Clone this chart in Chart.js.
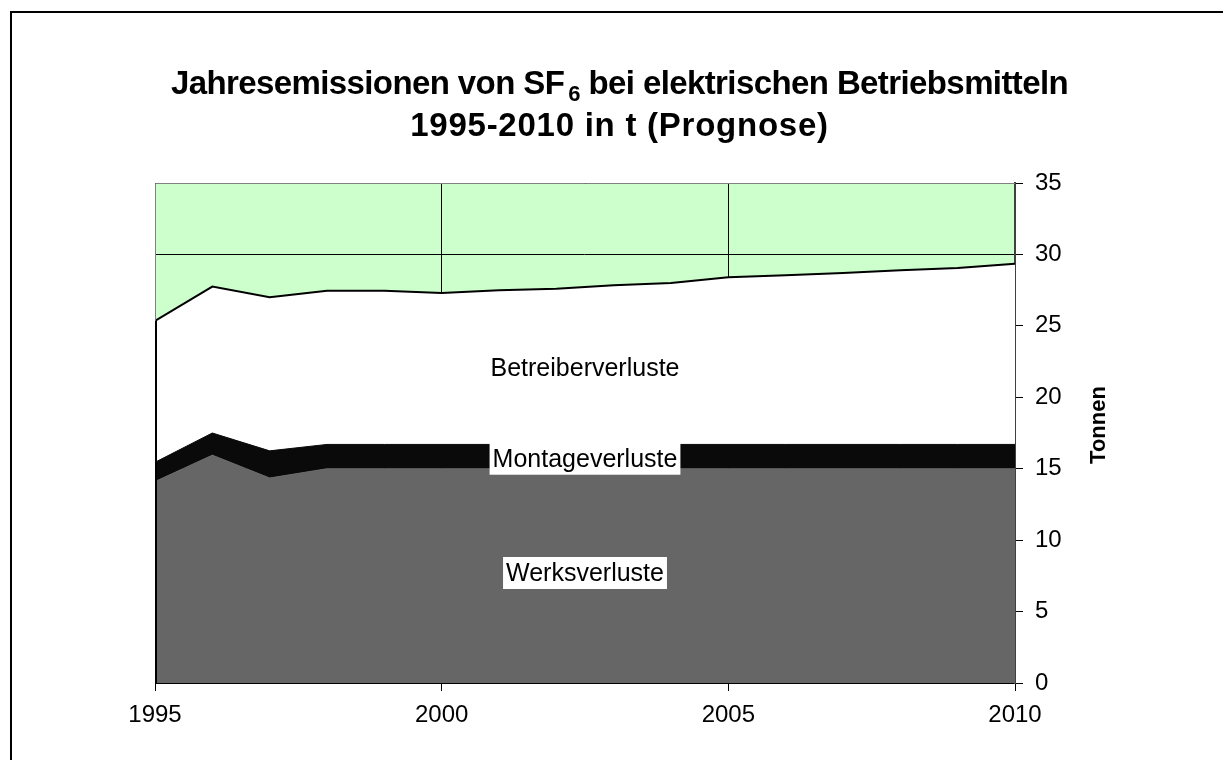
<!DOCTYPE html>
<html><head><meta charset="utf-8">
<script src="https://cdn.jsdelivr.net/npm/chart.js@4.4.0/dist/chart.umd.min.js"></script>
<style>
html,body{margin:0;padding:0;background:#fff;width:1223px;height:760px;overflow:hidden;}
#frame{position:absolute;left:10px;top:11px;width:1300px;height:800px;border-left:2px solid #000;border-top:2px solid #000;}
#title{position:absolute;left:0;top:62px;width:1239px;text-align:center;font-family:"Liberation Sans",Arial,sans-serif;font-weight:bold;font-size:33px;line-height:42px;color:#000;}
#title .l1{letter-spacing:-0.6px;}
#title .l2{letter-spacing:0.75px;}
#title sub{font-size:22px;vertical-align:-7px;line-height:0;margin-left:4px;}
canvas{position:absolute;left:0;top:0;}
</style></head><body>
<div id="frame"></div>
<canvas id="c" width="1223" height="760"></canvas>
<div id="title"><span class="l1">Jahresemissionen von SF<sub>6</sub> bei elektrischen Betriebsmitteln</span><br><span class="l2">1995-2010 in t (Prognose)</span></div>
<script>
const years = [1995,1996,1997,1998,1999,2000,2001,2002,2003,2004,2005,2006,2007,2008,2009,2010];
const werksverluste = [14.1,15.95,14.35,15.0,15.0,15.0,15.0,15.0,15.0,15.0,15.0,15.0,15.0,15.0,15.0,15.0];
const montageverluste = [1.35,1.55,1.9,1.7,1.7,1.7,1.7,1.7,1.7,1.7,1.7,1.7,1.7,1.7,1.7,1.7];
const betreiberverluste = [9.9,10.25,10.75,10.75,10.75,10.6,10.8,10.9,11.15,11.3,11.7,11.85,12.0,12.2,12.35,12.65];
const seriesNames = ['Werksverluste','Montageverluste','Betreiberverluste'];
const xTicks = [1995,2000,2005,2010];
const yTicks = [0,5,10,15,20,25,30,35];
const yAxisTitle = 'Tonnen';

const FONT = '"Liberation Sans", Arial, sans-serif';
const pts = arr => arr.map((v,i)=>({x:years[i], y:v}));

const bgPlugin = {
  id:'bg',
  beforeDraw(chart){
    const {ctx, chartArea:a} = chart;
    ctx.save(); ctx.fillStyle='#ccffcc';
    ctx.fillRect(a.left,a.top,a.right-a.left,a.bottom-a.top);
    ctx.restore();
  }
};

const labelPlugin = {
  id:'labels',
  afterDatasetsDraw(chart){
    const {ctx, chartArea:a, scales} = chart;
    ctx.save();
    ctx.strokeStyle='#808080'; ctx.lineWidth=1;
    ctx.beginPath();
    ctx.moveTo(a.left+0.5, a.bottom); ctx.lineTo(a.left+0.5, a.top+0.5); ctx.lineTo(a.right, a.top+0.5);
    ctx.stroke();
    const total0 = werksverluste[0]+montageverluste[0]+betreiberverluste[0];
    ctx.strokeStyle='#000'; ctx.lineWidth=2;
    ctx.beginPath();
    ctx.moveTo(a.left+1, scales.y.getPixelForValue(0));
    ctx.lineTo(a.left+1, scales.y.getPixelForValue(total0));
    ctx.stroke();
    ctx.font = '25px ' + FONT;
    ctx.textAlign='center'; ctx.textBaseline='middle';
    const lx = scales.x.getPixelForValue(2002.5);
    const specs = [
      {name:seriesNames[0], v:7.7, box:true},
      {name:seriesNames[1], v:15.7, box:true},
      {name:seriesNames[2], v:22.05, box:false}
    ];
    specs.forEach(s=>{
      const y = scales.y.getPixelForValue(s.v);
      const w = ctx.measureText(s.name).width;
      if(s.box){
        ctx.fillStyle='#fff';
        ctx.fillRect(lx - w/2 - 3, y - 16, w + 6, 32);
      }
      ctx.fillStyle='#000';
      ctx.fillText(s.name, lx, y+1);
    });
    ctx.restore();
  },
  afterDraw(chart){
    const {ctx} = chart;
    ctx.save();
    ctx.font = 'bold 22px ' + FONT;
    ctx.fillStyle='#000'; ctx.textAlign='center'; ctx.textBaseline='middle';
    ctx.translate(1099, 425); ctx.rotate(-Math.PI/2);
    ctx.fillText(yAxisTitle, 0, 0);
    ctx.restore();
  }
};

new Chart(document.getElementById('c'), {
  type:'line',
  data:{
    datasets:[
      {label:seriesNames[0], data:pts(werksverluste), fill:'origin', backgroundColor:'#666666', borderColor:'#666666', borderWidth:1, pointRadius:0, tension:0},
      {label:seriesNames[1], data:pts(montageverluste), fill:'-1', backgroundColor:'#0a0a0a', borderColor:'#0a0a0a', borderWidth:1, pointRadius:0, tension:0},
      {label:seriesNames[2], data:pts(betreiberverluste), fill:'-1', backgroundColor:'#ffffff', borderColor:'#000000', borderWidth:2, pointRadius:0, tension:0}
    ]
  },
  options:{
    responsive:false, animation:false, devicePixelRatio:1,
    layout:{padding:{left:155, top:183, right:0, bottom:0}},
    plugins:{legend:{display:false}, tooltip:{enabled:false}, title:{display:false}},
    scales:{
      x:{
        type:'linear', min:1995, max:2010,
        afterBuildTicks: s=>{ s.ticks = xTicks.map(v=>({value:v})); },
        ticks:{font:{family:FONT, size:24}, color:'#000', padding:10, maxRotation:0, autoSkip:false, callback:v=>String(v)},
        grid:{color:'#000', lineWidth:1, tickLength:8},
        border:{color:'#000', width:1},
        afterFit: s=>{ s.height = 77; }
      },
      y:{
        position:'right', stacked:true, min:0, max:35,
        afterBuildTicks: s=>{ s.ticks = yTicks.map(v=>({value:v})); },
        ticks:{font:{family:FONT, size:24}, color:'#000', padding:12, autoSkip:false},
        grid:{color:'#000', lineWidth:1, tickLength:8},
        border:{color:'#404040', width:2},
        afterFit: s=>{ s.width = 208; }
      }
    }
  },
  plugins:[bgPlugin, labelPlugin]
});
</script>
</body></html>
